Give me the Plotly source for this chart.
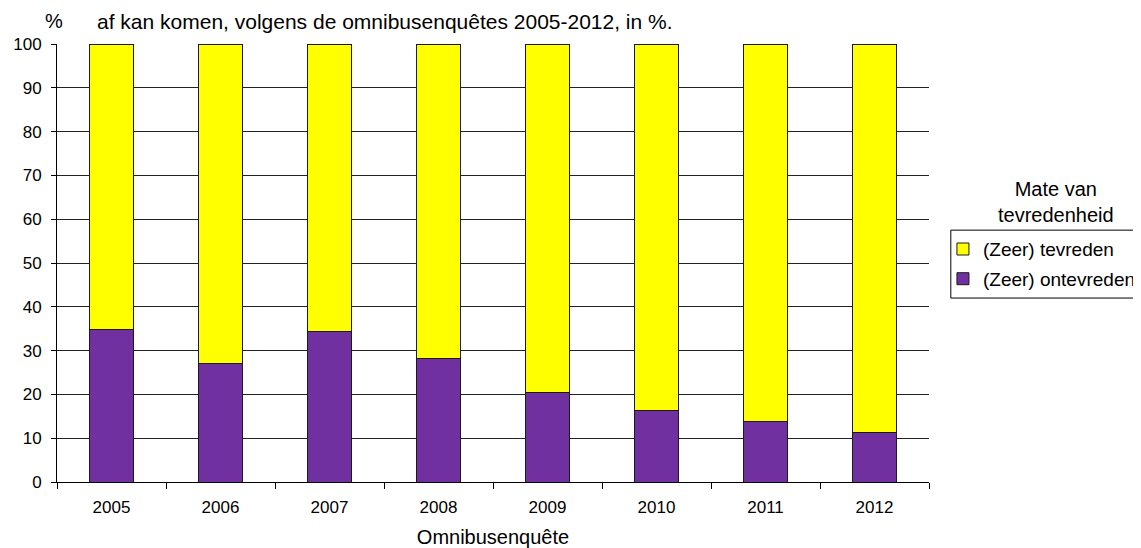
import plotly.graph_objects as go

years = ["2005", "2006", "2007", "2008", "2009", "2010", "2011", "2012"]
ontevreden = [34.9, 27.1, 34.3, 28.3, 20.5, 16.3, 13.7, 11.4]
tevreden = [round(100 - v, 1) for v in ontevreden]

FONT = "Liberation Sans, Arial, sans-serif"

fig = go.Figure()
fig.add_trace(go.Bar(x=years, y=ontevreden, name="(Zeer) ontevreden", legendgroup="b",
                     legendrank=2,
                     marker=dict(color="#7030A0", line=dict(color="#1a1a1a", width=1))))
fig.add_trace(go.Bar(x=years, y=tevreden, name="(Zeer) tevreden", legendgroup="a",
                     legendrank=1,
                     marker=dict(color="#FFFF00", line=dict(color="#1a1a1a", width=1))))

fig.update_layout(
    width=1133, height=540,
    barmode="stack", bargap=0.6,
    plot_bgcolor="white", paper_bgcolor="white",
    margin=dict(l=49, r=212, t=36, b=66, autoexpand=False),
    font=dict(family=FONT, size=17, color="#000"),
    showlegend=True,
    legend=dict(x=1.016, y=0.575, xanchor="left", yanchor="top",
                traceorder="grouped", tracegroupgap=2, itemwidth=30,
                bgcolor="rgba(0,0,0,0)", borderwidth=0,
                font=dict(size=19)),
    xaxis=dict(type="category", showline=True, linecolor="#000", linewidth=1,
               ticks="outside", tickson="boundaries", ticklen=6, tickcolor="#000",
               tickfont=dict(size=17), ticklabelstandoff=10,
               title=dict(text="Omnibusenquête", font=dict(size=20), standoff=13)),
    yaxis=dict(range=[0, 100], dtick=10, showline=True, linecolor="#000", linewidth=1,
               ticks="outside", ticklen=5, tickcolor="#000", showgrid=True,
               gridcolor="#222", gridwidth=1, zeroline=False, tickfont=dict(size=17),
               ticklabelstandoff=6),
    shapes=[
        dict(type="rect", xref="paper", yref="paper", x0=1.025, x1=1.26,
             y0=0.42, y1=0.575, line=dict(color="#000", width=1),
             fillcolor="rgba(0,0,0,0)", layer="below"),
    ],
    annotations=[
        dict(text="af kan komen, volgens de omnibusenquêtes 2005-2012, in %.",
             xref="paper", yref="paper", x=0.376, y=1.082, xanchor="center",
             yanchor="top", showarrow=False, font=dict(size=21)),
        dict(text="%", xref="paper", yref="paper", x=-0.0034, y=1.0525,
             xanchor="center", yanchor="middle", showarrow=False, font=dict(size=20)),
        dict(text="Mate van<br>tevredenheid", xref="paper", yref="paper",
             x=1.1456, y=0.639, xanchor="center", yanchor="middle", showarrow=False,
             font=dict(size=20)),
    ],
)

fig.write_html("out.html")
